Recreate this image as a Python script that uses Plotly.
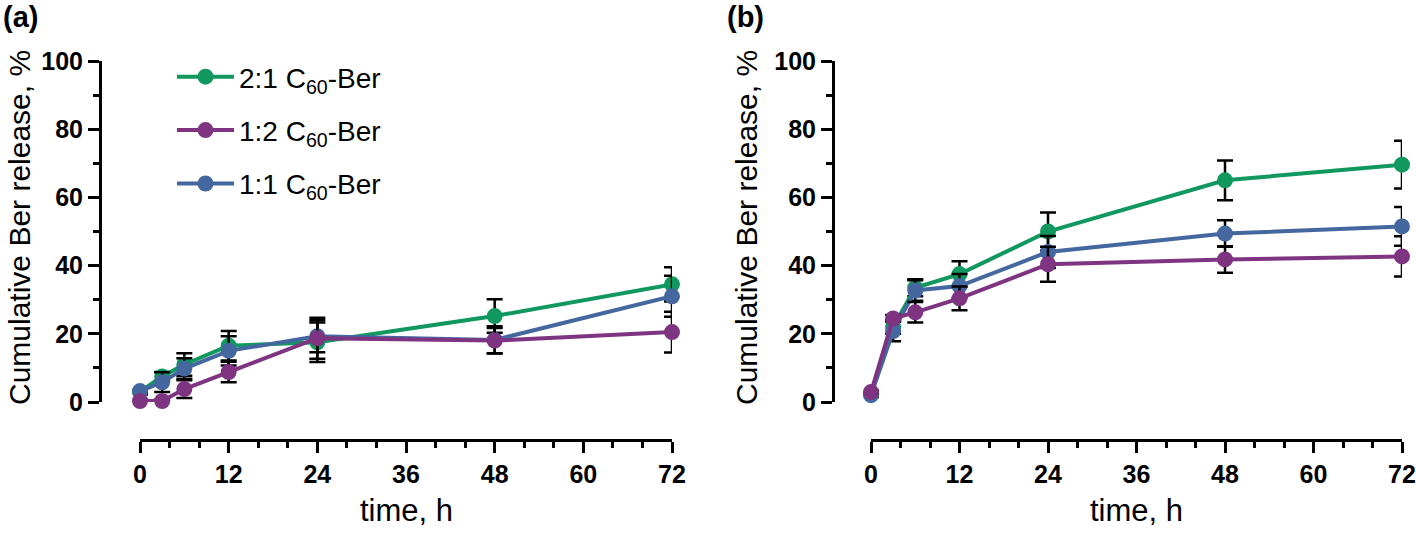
import plotly.graph_objects as go

# ---------------- data ----------------
time_h = [0, 3, 6, 12, 24, 48, 72]

# panel (a)
a_21 = [3.0, 7.5, 11.0, 16.5, 17.5, 25.2, 34.5]
a_21_err = [0.8, 1.3, 3.3, 4.3, 5.8, 4.9, 5.0]
a_11 = [3.2, 5.8, 9.8, 15.0, 19.3, 18.2, 31.0]
a_11_err = [0.6, 2.9, 3.0, 4.3, 4.7, 4.0, 6.0]
a_12 = [0.3, 0.3, 3.8, 8.8, 18.7, 18.0, 20.5]
a_12_err = [0.4, 0.4, 2.6, 3.0, 6.0, 3.7, 6.0]

# panel (b)
b_21 = [2.5, 22.0, 33.5, 37.5, 50.0, 65.0, 69.6]
b_21_err = [0.5, 2.0, 2.5, 3.8, 5.6, 5.8, 7.0]
b_11 = [2.0, 20.8, 32.7, 34.0, 44.0, 49.4, 51.5]
b_11_err = [0.5, 3.0, 3.0, 3.5, 4.7, 3.9, 5.7]
b_12 = [2.9, 24.5, 26.3, 30.4, 40.4, 41.8, 42.7]
b_12_err = [0.5, 1.0, 3.0, 3.5, 5.1, 3.9, 5.9]

names = ["2:1 C<sub>60</sub>-Ber", "1:2 C<sub>60</sub>-Ber", "1:1 C<sub>60</sub>-Ber"]
x_ticks = [0, 12, 24, 36, 48, 60, 72]
y_ticks = [0, 20, 40, 60, 80, 100]

GREEN = "#10985f"
PURPLE = "#7e3481"
BLUE = "#43679e"

W, H = 1416, 533
FONT = "Liberation Sans, Arial, sans-serif"

def px_x(p):
    return p / W

def px_y(p):
    return 1 - p / H

fig = go.Figure()

def add_series(xa, ya, y, err, color, name, rank, show):
    fig.add_trace(go.Scatter(
        x=time_h, y=y, mode="lines+markers", name=name,
        xaxis=xa, yaxis=ya,
        line=dict(color=color, width=4),
        marker=dict(color=color, size=16),
        error_y=dict(type="data", array=err, visible=True, color="black",
                     thickness=2.5, width=8),
        cliponaxis=False,
        legendgroup=name, legendrank=rank, showlegend=show,
    ))

# draw order: green, blue, purple (purple on top)
add_series("x", "y", a_21, a_21_err, GREEN, names[0], 1, True)
add_series("x", "y", a_11, a_11_err, BLUE, names[2], 3, True)
add_series("x", "y", a_12, a_12_err, PURPLE, names[1], 2, True)
add_series("x2", "y2", b_21, b_21_err, GREEN, names[0], 1, False)
add_series("x2", "y2", b_11, b_11_err, BLUE, names[2], 3, False)
add_series("x2", "y2", b_12, b_12_err, PURPLE, names[1], 2, False)

tickfont = dict(family=FONT, size=25, color="black", weight="bold")

def xaxis_cfg(dom):
    return dict(
        domain=dom, range=[0, 72], anchor="free", position=px_y(440),
        showline=True, linewidth=3, linecolor="black",
        ticks="outside", ticklen=11, tickwidth=3, tickcolor="black",
        tickvals=x_ticks, tickfont=tickfont, showgrid=False, zeroline=False,
        minor=dict(dtick=4, tick0=0, ticks="outside", ticklen=6, tickwidth=3,
                   tickcolor="black", showgrid=False),
        automargin=False,
    )

def yaxis_cfg(pos):
    return dict(
        domain=[px_y(402), px_y(61)], range=[0, 100], anchor="free", position=pos,
        showline=True, linewidth=3, linecolor="black",
        ticks="outside", ticklen=11, tickwidth=3, tickcolor="black",
        tickvals=y_ticks, tickfont=tickfont, showgrid=False, zeroline=False,
        minor=dict(dtick=10, tick0=0, ticks="outside", ticklen=6, tickwidth=3,
                   tickcolor="black", showgrid=False),
        automargin=False,
    )

fig.update_layout(
    width=W, height=H,
    margin=dict(l=0, r=0, t=0, b=0),
    paper_bgcolor="white", plot_bgcolor="white",
    xaxis=xaxis_cfg([px_x(140), px_x(672)]),
    yaxis=yaxis_cfg(px_x(100)),
    xaxis2=xaxis_cfg([px_x(871), px_x(1402)]),
    yaxis2=yaxis_cfg(px_x(833)),
    showlegend=True,
    legend=dict(
        x=px_x(172), y=px_y(52), xanchor="left", yanchor="top",
        font=dict(family=FONT, size=28, color="black"),
        bgcolor="rgba(0,0,0,0)", itemwidth=57, tracegroupgap=14,
    ),
    font=dict(family=FONT, color="black"),
)

annots = [
    dict(text="<b>(a)</b>", x=px_x(20), y=px_y(17), size=29, angle=0),
    dict(text="<b>(b)</b>", x=px_x(745), y=px_y(17), size=29, angle=0),
    dict(text="Cumulative Ber release, %", x=px_x(19), y=px_y(228), size=30, angle=-90),
    dict(text="Cumulative Ber release, %", x=px_x(746), y=px_y(228), size=30, angle=-90),
    dict(text="time, h", x=px_x(406), y=px_y(511), size=31, angle=0),
    dict(text="time, h", x=px_x(1136), y=px_y(511), size=31, angle=0),
]
for a in annots:
    fig.add_annotation(
        text=a["text"], x=a["x"], y=a["y"], xref="paper", yref="paper",
        xanchor="center", yanchor="middle", showarrow=False,
        textangle=a["angle"], font=dict(family=FONT, size=a["size"], color="black"),
    )

fig.write_html(
    "out.html",
    config={"displayModeBar": False},
    post_script="document.body.style.margin='0';document.body.style.overflow='hidden';",
)
